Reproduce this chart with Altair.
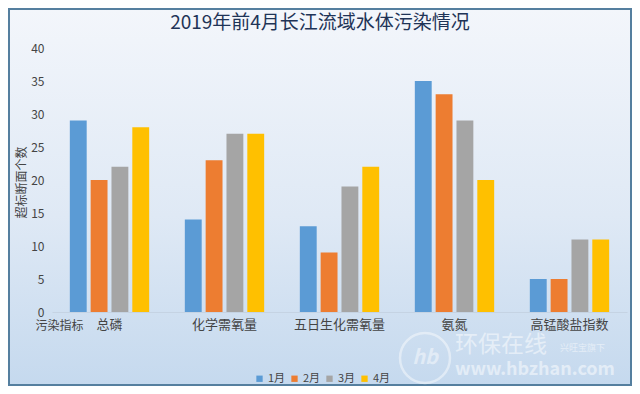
import altair as alt
import pandas as pd

cats = ["总磷", "化学需氧量", "五日生化需氧量", "氨氮", "高锰酸盐指数"]
months = ["1月", "2月", "3月", "4月"]
jan = [29, 14, 13, 35, 5]
feb = [20, 23, 9, 33, 5]
mar = [22, 27, 19, 29, 11]
apr = [28, 27, 22, 20, 11]
colors = ["#5B9BD5", "#ED7D31", "#A5A5A5", "#FFC000"]
title_text = "2019年前4月长江流域水体污染情况"

rows = []
for m, vals in zip(months, [jan, feb, mar, apr]):
    for c, v in zip(cats, vals):
        rows.append({"指标": c, "月份": m, "个数": v})
df = pd.DataFrame(rows)

FONT = "Noto Sans CJK SC"
W, H = 575, 264
PL, PT, PR, PB = 44, 40, 5, 74

bg = alt.Chart(pd.DataFrame({"a": [0]})).mark_rect(
    fill=alt.Gradient(
        gradient="linear", x1=0, y1=0, x2=0, y2=1,
        stops=[alt.GradientStop(color="#F3F6FB", offset=0),
               alt.GradientStop(color="#DFE9F5", offset=0.55),
               alt.GradientStop(color="#C5D9EE", offset=1)]),
    stroke="#557F9F", strokeWidth=2,
).encode(x=alt.value(-PL + 1), x2=alt.value(W + PR - 1),
         y=alt.value(-PT + 1), y2=alt.value(H + PB - 1))

bars = alt.Chart(df).mark_bar().encode(
    x=alt.X("指标:N", sort=cats,
            scale=alt.Scale(paddingInner=0.31, paddingOuter=0.155),
            axis=alt.Axis(title="污染指标", labelAngle=0, labelFontSize=13,
                          labelColor="#444", labelPadding=6, ticks=False,
                          domainColor="#C5D3E3", titleFontSize=12,
                          titleFontWeight="normal", titleColor="#444",
                          titleX=-17, titleY=13, titleAlign="left",
                          titleBaseline="middle", titleAnchor="start",
                          zindex=2)),
    xOffset=alt.XOffset("月份:N", sort=months,
                        scale=alt.Scale(paddingInner=0.19, paddingOuter=0)),
    y=alt.Y("个数:Q", scale=alt.Scale(domain=[0, 40]),
            axis=alt.Axis(title="超标断面个数", values=list(range(0, 45, 5)),
                          grid=False, domain=False, ticks=False,
                          labelPadding=8, labelFontSize=12, labelColor="#444",
                          titleFontSize=12, titleFontWeight="normal",
                          titleColor="#444", titleX=-31, titleY=H / 2 + 2,
                          titleBaseline="middle", zindex=2)),
    color=alt.Color("月份:N", sort=months,
                    scale=alt.Scale(domain=months, range=colors),
                    legend=alt.Legend(title=None, orient="none",
                                      direction="horizontal", legendX=202,
                                      legendY=325, symbolType="square",
                                      symbolSize=40, symbolStrokeWidth=0,
                                      labelFontSize=11, labelColor="#444",
                                      columnPadding=3, labelOffset=3,
                                      zindex=2)),
)

title = alt.Chart(pd.DataFrame({"t": [title_text]})).mark_text(
    font=FONT, fontSize=19, fontWeight="normal", color="#1F3457",
    align="center", baseline="middle",
).encode(text="t:N", x=alt.value(268), y=alt.value(-25))

wm_c = alt.Chart(pd.DataFrame({"t": ["logo"]})).mark_point(
    shape="circle", size=2500, filled=False, color="white", opacity=0.45,
    strokeWidth=2.5,
).encode(x=alt.value(373), y=alt.value(310))
wm_l = alt.Chart(pd.DataFrame({"t": ["hb"]})).mark_text(
    font=FONT, fontSize=20, fontWeight="bold", fontStyle="italic",
    color="white", opacity=0.45, align="center", baseline="middle",
).encode(text="t:N", x=alt.value(373), y=alt.value(310))
wm = alt.Chart(pd.DataFrame({"t": ["环保在线"]})).mark_text(
    font=FONT, fontSize=23, fontWeight="normal", color="white", opacity=0.5,
    align="left", baseline="middle",
).encode(text="t:N", x=alt.value(403), y=alt.value(297))
wm_s = alt.Chart(pd.DataFrame({"t": ["兴旺宝旗下"]})).mark_text(
    font=FONT, fontSize=9, color="white", opacity=0.5,
    align="left", baseline="middle",
).encode(text="t:N", x=alt.value(508), y=alt.value(300))
wm2 = alt.Chart(pd.DataFrame({"t": ["www.hbzhan.com"]})).mark_text(
    font=FONT, fontSize=18, fontWeight="bold", color="white", opacity=0.5,
    align="left", baseline="middle",
).encode(text="t:N", x=alt.value(403), y=alt.value(322))

chart = alt.layer(bg, bars, wm_c, wm_l, wm, wm_s, wm2, title).properties(
    width=W, height=H,
    autosize=alt.AutoSizeParams(type="none"),
    padding={"left": PL, "top": PT, "right": PR, "bottom": PB},
).configure(font=FONT).configure_view(stroke=None).configure_axis(
    labelFont=FONT, titleFont=FONT)

chart.save("out.html", embed_options={"renderer": "svg", "actions": False})
